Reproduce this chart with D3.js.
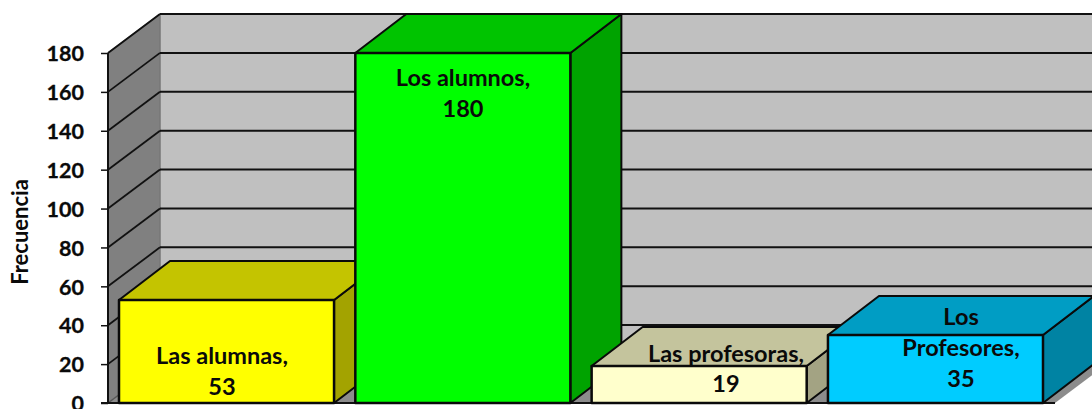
<!DOCTYPE html>
<html><head><meta charset="utf-8">
<style>html,body{margin:0;padding:0;background:#fff;overflow:hidden}svg{display:block}text{font-family:Lato,Carlito,sans-serif;font-weight:700;fill:#0a0a0a}</style>
<script src="https://cdn.jsdelivr.net/npm/d3@7"></script></head><body>
<script>
const categories=["Las alumnas,","Los alumnos,","Las profesoras,","Los Profesores,"];
const values=[53,180,19,35];
const ticks=[0,20,40,60,80,100,120,140,160,180];
const frontColors=["#ffff00","#00ff00","#ffffcc","#00ccff"];
const topColors=["#c4c400","#00c400","#c4c49d","#009dc4"];
const sideColors=["#a3a300","#00a300","#a3a383","#0083a3"];
const labelLines=[["Las alumnas,","53"],["Los alumnos,","180"],["Las profesoras,","19"],["Los","Profesores,","35"]];
const labelX=[222,463,726,961];
const labelY=[364,86,362,325];
const labelStep=[31,31,30,31];

const W=1092,H=409,dx=52,dy=-39;
const svg=d3.select("body").append("svg").attr("width",W).attr("height",H);
const y=d3.scaleLinear().domain([0,180]).range([403,53]);
const x=d3.scaleBand().domain(categories).range([119,1043]).paddingInner(0.09);
const x0=108,xEnd=1107;
const poly=(pts,fill,stroke,sw)=>svg.append("polygon").attr("points",pts.map(p=>p.join(",")).join(" ")).attr("fill",fill).attr("stroke",stroke||"none").attr("stroke-width",sw||0).attr("stroke-linejoin","round");

// walls and floor
poly([[x0+dx,y(180)+dy],[xEnd,y(180)+dy],[xEnd,y(0)+dy],[x0+dx,y(0)+dy]],"#c0c0c0");
poly([[x0,y(180)],[x0+dx,y(180)+dy],[x0+dx,y(0)+dy],[x0,y(0)]],"#808080");
poly([[x0,y(0)],[x0+dx,y(0)+dy],[xEnd,y(0)+dy],[xEnd-dx,y(0)]],"#8c8c8c");
svg.append("line").attr("x1",x0+dx).attr("x2",xEnd).attr("y1",y(180)+dy).attr("y2",y(180)+dy).attr("stroke","#444").attr("stroke-width",2);
svg.append("line").attr("x1",x0).attr("x2",x0+dx).attr("y1",y(180)).attr("y2",y(180)+dy).attr("stroke","#555").attr("stroke-width",1.5);
svg.append("line").attr("x1",x0+dx).attr("x2",x0+dx).attr("y1",y(180)+dy).attr("y2",y(0)+dy).attr("stroke","#777").attr("stroke-width",1.5);

// gridlines
const grid=ticks.filter(t=>t>0);
svg.selectAll(".gh").data(grid).join("line").attr("x1",x0+dx).attr("x2",xEnd).attr("y1",d=>y(d)+dy).attr("y2",d=>y(d)+dy).attr("stroke","#111").attr("stroke-width",2);
svg.selectAll(".gd").data(grid).join("line").attr("x1",x0).attr("x2",x0+dx).attr("y1",d=>y(d)).attr("y2",d=>y(d)+dy).attr("stroke","#111").attr("stroke-width",1.8);
svg.append("line").attr("x1",x0).attr("x2",x0+dx).attr("y1",y(0)).attr("y2",y(0)+dy).attr("stroke","#555").attr("stroke-width",1.5);

// axis
const axisG=svg.append("g").attr("transform",`translate(${x0},0)`).call(d3.axisLeft(y).tickValues(ticks).tickSize(7).tickPadding(17));
axisG.select(".domain").attr("stroke","#111").attr("stroke-width",2).attr("d",`M0,${y(180)}V${y(0)}`);
axisG.selectAll(".tick line").attr("stroke","#111").attr("stroke-width",1.5);
axisG.selectAll("text").style("font-size","21.5px").style("font-family","Lato,Carlito,sans-serif").style("font-weight",700).attr("dy","0.36em").attr("fill","#0a0a0a").attr("stroke","#0a0a0a").attr("stroke-width",0.3);
svg.append("line").attr("x1",x0-7).attr("x2",xEnd-dx).attr("y1",y(0)).attr("y2",y(0)).attr("stroke","#111").attr("stroke-width",2);

svg.append("text").attr("transform","translate(28,232) rotate(-90)").attr("text-anchor","middle").style("font-size","22px").text("Frecuencia");

// 3D bars
const barDepthDx=51;
categories.forEach((c,i)=>{
  const l=x(c),r=l+x.bandwidth(),t=y(values[i]),b=y(0);
  poly([[r,t],[r+barDepthDx,t+dy],[r+barDepthDx,b+dy],[r,b]],sideColors[i],"#0a0a0a",2);
  poly([[l,t],[l+barDepthDx,t+dy],[r+barDepthDx,t+dy],[r,t]],topColors[i],"#0a0a0a",2);
  poly([[l,t],[r,t],[r,b],[l,b]],frontColors[i],"#0a0a0a",2.5);
});

// labels
labelLines.forEach((lines,i)=>{
  lines.forEach((s,j)=>{
    svg.append("text").attr("x",labelX[i]).attr("y",labelY[i]+j*labelStep[i]).attr("text-anchor","middle").style("font-size","23.5px").text(s);
  });
});
</script></body></html>
